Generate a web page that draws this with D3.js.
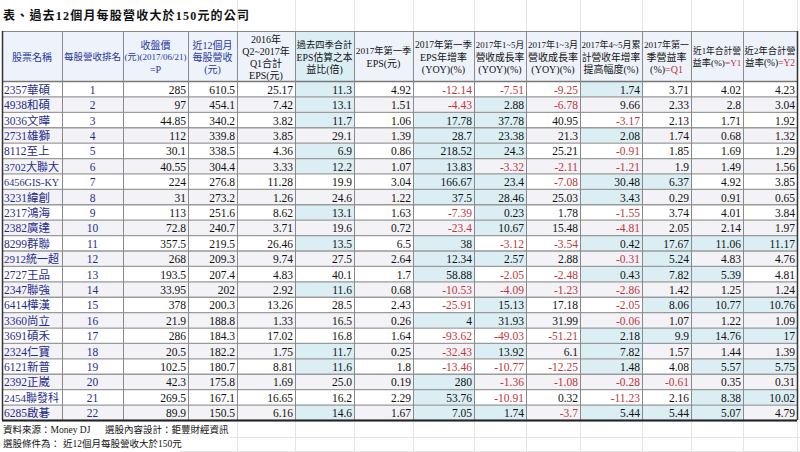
<!DOCTYPE html>
<html>
<head>
<meta charset="utf-8">
<script src="https://cdn.jsdelivr.net/npm/d3@7"></script>
<style>
  body { margin: 0; background: #fff; }
  svg { display: block; }
</style>
</head>
<body>
<div id="chart"></div>
<script>
// table values
var names = ["2357華碩", "4938和碩", "3036文曄", "2731雄獅", "8112至上", "3702大聯大", "6456GIS-KY", "3231緯創",
    "2317鴻海", "2382廣達", "8299群聯", "2912統一超", "2727王品", "2347聯強", "6414樺漢", "3360尚立",
    "3691碩禾", "2324仁寶", "6121新普", "2392正崴", "2454聯發科", "6285啟碁"];
var ranks = d3.range(1, 23);
var prices = [285, 97, 44.85, 112, 30.1, 40.55, 224, 31, 113, 72.8, 357.5, 268, 193.5, 33.95, 378, 21.9, 286, 20.5, 102.5, 42.3, 269.5, 89.9];
var rev12 = [610.5, 454.1, 340.2, 339.8, 338.5, 304.4, 276.8, 273.2, 251.6, 240.7, 219.5, 209.3, 207.4, 202, 200.3, 188.8, 184.3, 182.2, 180.7, 175.8, 167.1, 150.5];
var eps4q = [25.17, 7.42, 3.82, 3.85, 4.36, 3.33, 11.28, 1.26, 8.62, 3.71, 26.46, 9.74, 4.83, 2.92, 13.26, 1.33, 17.02, 1.75, 8.81, 1.69, 16.65, 6.16];
var pe = [11.3, 13.1, 11.7, 29.1, 6.9, 12.2, 19.9, 24.6, 13.1, 19.6, 13.5, 27.5, 40.1, 11.6, 28.5, 16.5, 16.8, 11.7, 11.6, 25.0, 16.2, 14.6];
var epsQ1 = [4.92, 1.51, 1.06, 1.39, 0.86, 1.07, 3.04, 1.22, 1.63, 0.72, 6.5, 2.64, 1.7, 0.68, 2.43, 0.26, 1.64, 0.25, 1.8, 0.19, 2.29, 1.67];
var epsYoy = [-12.14, -4.43, 17.78, 28.7, 218.52, 13.83, 166.67, 37.5, -7.39, -23.4, 38, 12.34, 58.88, -10.53, -25.91, 4, -93.62, -32.43, -13.46, 280, 53.76, 7.05];
var rev15 = [-7.51, 2.88, 37.78, 23.38, 24.3, -3.32, 23.4, 28.46, 0.23, 10.67, -3.12, 2.57, -2.05, -4.09, 15.13, 31.93, -49.03, 13.92, -10.77, -1.36, -10.91, 1.74];
var rev13 = [-9.25, -6.78, 40.95, 21.3, 25.21, -2.11, -7.08, 25.03, 1.78, 15.48, -3.54, 2.88, -2.48, -1.23, 17.18, 31.99, -51.21, 6.1, -12.25, -1.08, 0.32, -3.7];
var revDiff = [1.74, 9.66, -3.17, 2.08, -0.91, -1.21, 30.48, 3.43, -1.55, -4.81, 0.42, -0.31, 0.43, -2.86, -2.05, -0.06, 2.18, 7.82, 1.48, -0.28, -11.23, 5.44];
var revDiffMarked = [1, 0, 0, 1, 0, 0, 1, 1, 0, 0, 1, 0, 1, 0, 0, 0, 1, 1, 1, 0, 0, 1];
var q1Margin = [3.71, 2.33, 2.13, 1.74, 1.85, 1.9, 6.37, 0.29, 3.74, 2.05, 17.67, 5.24, 7.82, 1.42, 8.06, 1.07, 9.9, 1.57, 4.08, -0.61, 2.16, 5.44];
var y1Margin = [4.02, 2.8, 1.71, 0.68, 1.69, 1.49, 4.92, 0.91, 4.01, 2.14, 11.06, 4.83, 5.39, 1.25, 10.77, 1.22, 14.76, 1.44, 5.57, 0.35, 8.38, 5.07];
var y2Margin = [4.23, 3.04, 1.92, 1.32, 1.29, 1.56, 3.85, 0.65, 3.84, 1.97, 11.17, 4.76, 4.81, 1.24, 10.76, 1.09, 17, 1.39, 5.75, 0.31, 10.02, 4.79];

var title = "表、過去12個月每股營收大於150元的公司";
var source = "資料來源：Money DJ";
var designer = "選股內容設計：鉅豐財經資訊";
var condLabel = "選股條件為：";
var condText = "近12個月每股營收大於150元";

var width = 800, height = 452;
var svg = d3.select("#chart").append("svg").attr("width", width).attr("height", height);

var edges = [2, 62, 123, 188, 237, 295, 354, 413, 474, 526, 580, 642, 691, 743, 797];
var headTop = 31, headBottom = 81, tableBottom = 420;
var blue = "#dbeef4", stripe = "#f3f2f7", red = "#c0363a", navy = "#1f2d8c";
var num = "'Liberation Serif', 'Noto Sans CJK TC', serif";

var y = d3.scaleBand().domain(d3.range(names.length)).range([headBottom, tableBottom]);

var pos = function(v) { return v > 0; };
var over5 = function(v) { return v > 5; };
var columns = [
    {head: [["股票名稱"]], values: names, align: "start", color: navy},
    {head: [["每股營收排名"]], values: ranks, align: "middle", color: navy},
    {head: [["收盤價"], ["(元)(2017/06/21)"], ["=P"]], values: prices},
    {head: [["近12個月"], ["每股營收"], ["(元)"]], values: rev12},
    {head: [["2016年"], ["Q2~2017年"], ["Q1合計"], ["EPS(元)"]], values: eps4q, black: true},
    {head: [["過去四季合計"], ["EPS估算之本"], ["益比(倍)"]], values: pe, fmt: d3.format(".1f"), mark: function(v) { return v < 15; }, black: true, headFill: blue},
    {head: [["2017年第一季"], ["EPS(元)"]], values: epsQ1, black: true},
    {head: [["2017年第一季"], ["EPS年增率"], ["(YOY)(%)"]], values: epsYoy, mark: pos, black: true},
    {head: [["2017年1~5月"], ["營收成長率"], ["(YOY)(%)"]], values: rev15, mark: pos, black: true},
    {head: [["2017年1~3月"], ["營收成長率"], ["(YOY)(%)"]], values: rev13, black: true},
    {head: [["2017年4~5月累"], ["計營收年增率"], ["提高幅度(%)"]], values: revDiff, mark: function(v, i) { return revDiffMarked[i] == 1; }, black: true},
    {head: [["2017年第一"], ["季營益率"], ["(%)", "=Q1"]], values: q1Margin, mark: over5, black: true},
    {head: [["近1年合計營"], ["益率(%)", "=Y1"]], values: y1Margin, mark: over5, black: true},
    {head: [["近2年合計營"], ["益率(%)", "=Y2"]], values: y2Margin, mark: over5, black: true}
];

// shrink the font until the text fits its cell
function fit(sel, maxW) {
    sel.each(function() {
        var s = +d3.select(this).attr("font-size");
        while (this.getComputedTextLength() > maxW && s > 6) {
            s -= 0.25;
            d3.select(this).attr("font-size", s);
        }
    });
}

// faint sheet gridlines outside the table
var faint = svg.append("g").attr("stroke", "#e4e4e4").attr("stroke-width", 1);
edges.filter(function(e) { return e > 232; }).forEach(function(e) {
    faint.append("line").attr("x1", e + 0.5).attr("x2", e + 0.5).attr("y1", 0).attr("y2", headTop);
    faint.append("line").attr("x1", e + 0.5).attr("x2", e + 0.5).attr("y1", tableBottom).attr("y2", height);
});
faint.append("line").attr("x1", 230).attr("x2", width).attr("y1", 437.5).attr("y2", 437.5);
faint.append("line").attr("x1", 180).attr("x2", width).attr("y1", 451.5).attr("y2", 451.5);

// header cells
columns.forEach(function(col, c) {
    var x0 = edges[c], x1 = edges[c + 1];
    svg.append("rect").attr("x", x0).attr("y", headTop).attr("width", x1 - x0).attr("height", headBottom - headTop)
        .attr("fill", col.headFill || "#eef3fb");
    var n = col.head.length;
    var cy = (headTop + headBottom) / 2 + 1;
    col.head.forEach(function(parts, k) {
        var t = svg.append("text")
            .attr("x", (x0 + x1) / 2)
            .attr("y", cy + (k - (n - 1) / 2) * 12.2)
            .attr("text-anchor", "middle")
            .attr("dominant-baseline", "central")
            .attr("font-family", num)
            .attr("font-size", 10)
            .attr("fill", col.black ? "#111" : "#2436a0");
        parts.forEach(function(p, j) {
            t.append("tspan").text(p).attr("fill", j > 0 ? red : null);
        });
        fit(t, x1 - x0 - 3);
    });
});

// body cells
var body = svg.append("g");
names.forEach(function(nm, i) {
    var ry = y(i), rh = y.bandwidth();
    body.append("rect").attr("x", edges[0]).attr("y", ry).attr("width", edges[edges.length - 1] - edges[0]).attr("height", rh)
        .attr("fill", i % 2 == 1 ? stripe : "#fff");
    columns.forEach(function(col, c) {
        var v = col.values[i];
        var x0 = edges[c], x1 = edges[c + 1];
        if (col.mark && col.mark(v, i)) {
            body.append("rect").attr("x", x0).attr("y", ry).attr("width", x1 - x0).attr("height", rh).attr("fill", blue);
        }
        var tx = col.align == "start" ? x0 + 2 : col.align == "middle" ? (x0 + x1) / 2 : x1 - 2;
        var t = body.append("text")
            .attr("x", tx)
            .attr("y", ry + rh / 2 + 1)
            .attr("text-anchor", col.align || "end")
            .attr("dominant-baseline", "central")
            .attr("font-family", num)
            .attr("font-size", 11.5)
            .attr("fill", col.color || (typeof v == "number" && v < 0 ? red : "#111"))
            .text(col.fmt ? col.fmt(v) : String(v));
        fit(t, x1 - x0 - 4);
    });
});

// table lines
var lines = svg.append("g");
d3.range(names.length + 1).forEach(function(i) {
    var yy = i == names.length ? tableBottom : y(i);
    lines.append("line").attr("x1", edges[0]).attr("x2", edges[edges.length - 1])
        .attr("y1", yy + 0.5).attr("y2", yy + 0.5)
        .attr("stroke", i == 0 ? "#777" : "#9a9a9a").attr("stroke-width", 1.3);
});
lines.append("line").attr("x1", edges[0]).attr("x2", edges[edges.length - 1])
    .attr("y1", headTop + 0.5).attr("y2", headTop + 0.5).attr("stroke", "#888");
edges.forEach(function(e, k) {
    var outer = k == 0 || k == edges.length - 1;
    lines.append("line").attr("x1", e + 0.5).attr("x2", e + 0.5).attr("y1", headTop).attr("y2", tableBottom)
        .attr("stroke", outer ? "#333" : "#8a8a8a").attr("stroke-width", outer ? 1.5 : 1);
});
lines.append("line").attr("x1", edges[0]).attr("x2", edges[edges.length - 1])
    .attr("y1", tableBottom + 0.5).attr("y2", tableBottom + 0.5).attr("stroke", "#222").attr("stroke-width", 1.8);

// title and footer
svg.append("text").attr("x", 3).attr("y", 16).attr("dominant-baseline", "central")
    .attr("font-family", num).attr("font-size", 12).attr("font-weight", "bold").attr("fill", "#111")
    .attr("letter-spacing", 1.2).text(title);
var foot = [[source, 3, 430], [designer, 105, 430], [condLabel, 3, 444], [condText, 63, 444]];
foot.forEach(function(f) {
    svg.append("text").attr("x", f[1]).attr("y", f[2]).attr("dominant-baseline", "central")
        .attr("font-family", num).attr("font-size", 9.5).attr("fill", "#111").text(f[0]);
});
</script>
</body>
</html>
